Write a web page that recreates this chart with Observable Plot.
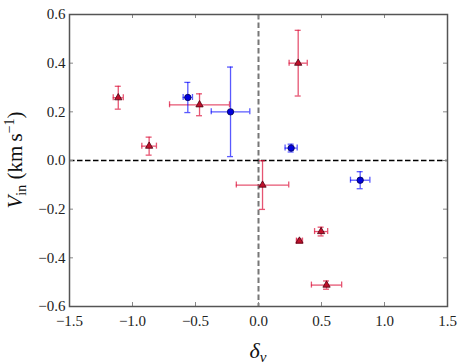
<!DOCTYPE html>
<html><head><meta charset="utf-8">
<script src="https://cdn.jsdelivr.net/npm/d3@7"></script>
<script src="https://cdn.jsdelivr.net/npm/@observablehq/plot@0.6"></script>
<style>body{margin:0;background:#fff} svg{display:block} svg text{font-family:'Liberation Serif','DejaVu Serif',serif !important}</style>
</head><body><div id="chart"></div>
<script>
// Red triangles
const redX    = [-1.113, -0.868, -0.468, 0.315, 0.032, 0.325, 0.497, 0.540];
const redY    = [0.258, 0.059, 0.229, 0.400, -0.101, -0.331, -0.292, -0.512];
const redXErr = [0.040, 0.058, 0.238, 0.072, 0.208, 0.024, 0.052, 0.120];
const redYErr = [0.047, 0.037, 0.045, 0.135, 0.100, 0.008, 0.018, 0.017];
// Blue circles
const blueX    = [-0.561, -0.222, 0.259, 0.807];
const blueY    = [0.259, 0.200, 0.051, -0.081];
const blueXErr = [0.037, 0.153, 0.048, 0.077];
const blueYErr = [0.062, 0.184, 0.016, 0.035];

const xTicks = [-1.5, -1.0, -0.5, 0.0, 0.5, 1.0, 1.5];
const yTicks = [-0.6, -0.4, -0.2, 0.0, 0.2, 0.4, 0.6];

const red = redX.map((x, i) => ({x, y: redY[i], xe: redXErr[i], ye: redYErr[i]}));
const blue = blueX.map((x, i) => ({x, y: blueY[i], xe: blueXErr[i], ye: blueYErr[i]}));

function errMarks(data, color, op) {
  const s = {stroke: color, strokeOpacity: op, strokeWidth: 1.3};
  return [
    Plot.ruleX(data, {x: "x", y1: d => d.y - d.ye, y2: d => d.y + d.ye, ...s}),
    Plot.ruleY(data, {y: "y", x1: d => d.x - d.xe, x2: d => d.x + d.xe, ...s}),
    Plot.ruleY(data, {y: d => d.y - d.ye, x1: "x", x2: "x", insetLeft: -3, insetRight: -3, ...s}),
    Plot.ruleY(data, {y: d => d.y + d.ye, x1: "x", x2: "x", insetLeft: -3, insetRight: -3, ...s}),
    Plot.ruleX(data, {x: d => d.x - d.xe, y1: "y", y2: "y", insetTop: -3, insetBottom: -3, ...s}),
    Plot.ruleX(data, {x: d => d.x + d.xe, y1: "y", y2: "y", insetTop: -3, insetBottom: -3, ...s})
  ];
}

const fmt = d3.format(".1f");
const tickStyle = {stroke: "#888", strokeWidth: 1};
const FONT = "'Liberation Serif', 'DejaVu Serif', serif";

const chart = Plot.plot({
  width: 463, height: 364,
  marginLeft: 69, marginRight: 16, marginTop: 14, marginBottom: 58,
  style: `font-family: ${FONT}; font-size: 15px; color: #222; background: #fff;`,
  x: {domain: [-1.5, 1.5]},
  y: {domain: [-0.6, 0.6]},
  marks: [
    Plot.ruleX([0], {stroke: "#777", strokeWidth: 2, strokeDasharray: "5.5,3"}),
    Plot.ruleY([0], {stroke: "#000", strokeWidth: 1.3, strokeDasharray: "5.5,2.5"}),
    Plot.ruleX(xTicks, {x: d => d, y1: -0.6, y2: -0.6, insetTop: -4, ...tickStyle}),
    Plot.ruleX(xTicks, {x: d => d, y1: 0.6, y2: 0.6, insetBottom: -4, ...tickStyle}),
    Plot.ruleY(yTicks, {y: d => d, x1: -1.5, x2: -1.5, insetRight: -4, ...tickStyle}),
    Plot.ruleY(yTicks, {y: d => d, x1: 1.5, x2: 1.5, insetLeft: -4, ...tickStyle}),
    ...errMarks(red, "#dc143c", 0.72),
    ...errMarks(blue, "#0000ff", 0.65),
    Plot.dot(red, {x: "x", y: "y", symbol: "triangle", r: 2.7, fill: "#c0102a", stroke: "#4a0010", strokeWidth: 0.8}),
    Plot.dot(blue, {x: "x", y: "y", symbol: "circle", r: 3.2, fill: "#0000dd", stroke: "#000050", strokeWidth: 0.8}),
    Plot.axisX({ticks: xTicks, tickSize: 0, tickPadding: 9, tickFormat: fmt, label: null, fontSize: 15}),
    Plot.axisY({ticks: yTicks, tickSize: 0, tickPadding: 4, tickFormat: fmt, label: null, fontSize: 15}),
    Plot.frame({stroke: "#555", strokeWidth: 1.5})
  ]
});
document.getElementById("chart").appendChild(chart);

const svg = d3.select(chart);
svg.selectAll("text").style("font-family", FONT);
const xs = chart.scale("x"), ys = chart.scale("y");
const xl = svg.append("text")
  .attr("x", xs.apply(0)).attr("y", 358)
  .attr("text-anchor", "middle")
  .attr("font-size", 22).attr("fill", "#111");
xl.append("tspan").attr("font-style", "italic").text("δ");
xl.append("tspan").attr("font-style", "italic").attr("font-size", 15).attr("dy", 4).text("v");

const yl = svg.append("text")
  .attr("transform", `translate(22,${ys.apply(0)}) rotate(-90)`)
  .attr("text-anchor", "middle")
  .attr("font-size", 21).attr("fill", "#111");
yl.append("tspan").attr("font-style", "italic").text("V");
yl.append("tspan").attr("font-size", 14).attr("dy", 4).text("in");
yl.append("tspan").attr("dy", -4).text(" (km\u2009s");
yl.append("tspan").attr("font-size", 14).attr("dy", -8).text("\u22121");
yl.append("tspan").attr("dy", 8).text(")");
</script>
</body></html>
